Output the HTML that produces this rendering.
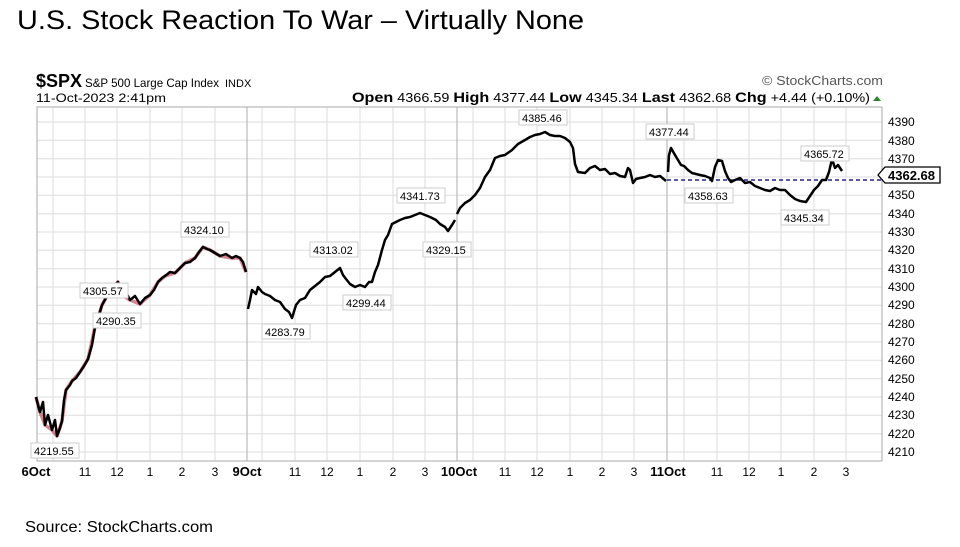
<!DOCTYPE html>
<html><head><meta charset="utf-8"><style>
body{margin:0;width:960px;height:542px;background:#fff;overflow:hidden;font-family:"Liberation Sans",Arial,sans-serif}
</style></head><body>
<svg width="960" height="542" xmlns="http://www.w3.org/2000/svg" font-family="Liberation Sans, Arial, sans-serif">
<text x="17" y="29" font-size="27" fill="#000" textLength="567" lengthAdjust="spacingAndGlyphs">U.S. Stock Reaction To War – Virtually None</text>
<text x="25" y="532" font-size="16" fill="#000" textLength="188" lengthAdjust="spacingAndGlyphs">Source: StockCharts.com</text>
<text x="36" y="87" font-size="18" font-weight="bold">$SPX</text>
<text x="85" y="87" font-size="12" textLength="134" lengthAdjust="spacingAndGlyphs">S&amp;P 500 Large Cap Index</text>
<text x="225" y="87" font-size="11">INDX</text>
<text x="36" y="102" font-size="12" textLength="130" lengthAdjust="spacingAndGlyphs">11-Oct-2023 2:41pm</text>
<text x="762" y="85" font-size="13" fill="#555" textLength="121" lengthAdjust="spacingAndGlyphs">© StockCharts.com</text>
<text x="352" y="102" font-size="12.5" textLength="518" lengthAdjust="spacingAndGlyphs"><tspan font-weight="bold" font-size="14">Open</tspan> 4366.59 <tspan font-weight="bold" font-size="14">High</tspan> 4377.44 <tspan font-weight="bold" font-size="14">Low</tspan> 4345.34 <tspan font-weight="bold" font-size="14">Last</tspan> 4362.68 <tspan font-weight="bold" font-size="14">Chg</tspan> +4.44 (+0.10%)</text>
<polygon points="873,101 881,101 877,96" fill="#2a8a2a"/>
<g stroke="#ddd" stroke-width="1">
<line x1="37" y1="122" x2="882" y2="122"/><line x1="37" y1="140.3" x2="882" y2="140.3"/><line x1="37" y1="158.7" x2="882" y2="158.7"/><line x1="37" y1="177" x2="882" y2="177"/><line x1="37" y1="195.3" x2="882" y2="195.3"/><line x1="37" y1="213.7" x2="882" y2="213.7"/><line x1="37" y1="232" x2="882" y2="232"/><line x1="37" y1="250.3" x2="882" y2="250.3"/><line x1="37" y1="268.7" x2="882" y2="268.7"/><line x1="37" y1="287" x2="882" y2="287"/><line x1="37" y1="305.3" x2="882" y2="305.3"/><line x1="37" y1="323.7" x2="882" y2="323.7"/><line x1="37" y1="342" x2="882" y2="342"/><line x1="37" y1="360.3" x2="882" y2="360.3"/><line x1="37" y1="378.7" x2="882" y2="378.7"/><line x1="37" y1="397" x2="882" y2="397"/><line x1="37" y1="415.3" x2="882" y2="415.3"/><line x1="37" y1="433.7" x2="882" y2="433.7"/><line x1="37" y1="452" x2="882" y2="452"/>
<line x1="53" y1="107" x2="53" y2="461"/><line x1="85" y1="107" x2="85" y2="461"/><line x1="117" y1="107" x2="117" y2="461"/><line x1="150" y1="107" x2="150" y2="461"/><line x1="182" y1="107" x2="182" y2="461"/><line x1="215" y1="107" x2="215" y2="461"/>
<line x1="262" y1="107" x2="262" y2="461"/><line x1="295" y1="107" x2="295" y2="461"/><line x1="327" y1="107" x2="327" y2="461"/><line x1="360" y1="107" x2="360" y2="461"/><line x1="393" y1="107" x2="393" y2="461"/><line x1="425" y1="107" x2="425" y2="461"/>
<line x1="473" y1="107" x2="473" y2="461"/><line x1="505" y1="107" x2="505" y2="461"/><line x1="537" y1="107" x2="537" y2="461"/><line x1="570" y1="107" x2="570" y2="461"/><line x1="602" y1="107" x2="602" y2="461"/><line x1="634" y1="107" x2="634" y2="461"/>
<line x1="684" y1="107" x2="684" y2="461"/><line x1="717" y1="107" x2="717" y2="461"/><line x1="749" y1="107" x2="749" y2="461"/><line x1="781" y1="107" x2="781" y2="461"/><line x1="814" y1="107" x2="814" y2="461"/><line x1="846" y1="107" x2="846" y2="461"/>
</g>
<g stroke="#bbb" stroke-width="1.2"><line x1="247" y1="107" x2="247" y2="461"/><line x1="457" y1="107" x2="457" y2="461"/><line x1="667" y1="107" x2="667" y2="461"/></g>
<rect x="37" y="107" width="845" height="354" fill="none" stroke="#aaa"/>
<line x1="667" y1="180" x2="882" y2="180" stroke="#22228a" stroke-width="1.5" stroke-dasharray="4,3"/>
<polyline fill="none" stroke="#c0304a" stroke-width="3.5" stroke-linejoin="round" opacity="0.6" points="36,397 40,412 45,425 52,430 57,436 62,421 66,390 72,381 80,372 88,359 95,327 102,305 110,290 118,282 122,295 130,300 140,304 150,295 158,282 165,276 175,273 185,263 195,258 203,247 210,250 220,256 232,258 240,258 246,272"/>
<polyline fill="none" stroke="#000" stroke-width="2.5" stroke-linejoin="round" points="36,397 38,405 40,412 43,402 45,425 48,415 52,430 55,420 57,436 60,428 62,421 64,400 66,390 70,385 72,381 76,378 80,372 84,366 88,359 92,345 95,327 99,315 102,305 106,298 110,290 114,285 118,282 122,295 126,292 130,300 135,296 140,304 145,298 150,295 154,290 158,282 162,278 165,276 170,272 175,273 180,268 185,263 190,262 195,258 199,252 203,247 207,249 210,250 215,253 220,256 226,254 232,258 236,256 240,258 243,262 246,272"/>
<polyline fill="none" stroke="#000" stroke-width="2.5" stroke-linejoin="round" points="248,309 250,300 252,290 256,294 258,287 262,292 265,294 270,296 275,300 280,302 285,309 289,312 292,318 296,305 300,300 305,298 310,290 315,286 320,282 325,277 330,276 335,272 340,268 343,275 346,279 350,284 355,287 360,285 365,287 369,282 372,282 375,272 378,265 382,250 385,240 388,235 392,224 396,222 400,220 405,218 410,217 415,215 420,213 425,215 430,217 436,220 440,224 445,227 448,231 452,225 455,220"/>
<polyline fill="none" stroke="#000" stroke-width="2.5" stroke-linejoin="round" points="457,214 460,208 465,203 470,200 475,195 480,188 485,177 490,170 495,158 500,156 505,155 512,150 518,144 525,140 530,137 535,135 540,134 545,132 550,135 555,136 560,136 565,138 570,142 573,148 575,164 578,172 585,173 590,168 595,166 600,170 605,169 610,174 615,173 620,176 625,177 628,168 630,170 633,183 636,179 640,178 645,177 650,175 655,177 660,176 666,181"/>
<polyline fill="none" stroke="#000" stroke-width="2.5" stroke-linejoin="round" points="668,172 669,155 671,148 675,155 678,160 681,165 684,166 688,170 692,173 696,174 700,175 705,176 710,178 712,181 715,167 718,160 722,161 725,171 728,178 731,182 735,180 740,178 745,183 750,182 755,186 760,188 765,190 770,191 775,188 780,190 785,190 790,195 795,199 800,201 806,202 810,196 814,190 818,186 822,180 826,180 829,172 832,159 835,168 838,165 842,171"/>
<g font-size="11" fill="#000">
<rect x="31" y="443" width="48" height="15" fill="#fff" stroke="#ccc"/><text x="34" y="455">4219.55</text>
<rect x="80" y="283" width="48" height="15" fill="#fff" stroke="#ccc"/><text x="83" y="295">4305.57</text>
<rect x="93" y="313" width="48" height="15" fill="#fff" stroke="#ccc"/><text x="96" y="325">4290.35</text>
<rect x="181" y="222" width="48" height="15" fill="#fff" stroke="#ccc"/><text x="184" y="234">4324.10</text>
<rect x="262" y="324" width="48" height="15" fill="#fff" stroke="#ccc"/><text x="265" y="336">4283.79</text>
<rect x="310" y="242" width="48" height="15" fill="#fff" stroke="#ccc"/><text x="313" y="254">4313.02</text>
<rect x="343" y="295" width="48" height="15" fill="#fff" stroke="#ccc"/><text x="346" y="307">4299.44</text>
<rect x="397" y="188" width="48" height="15" fill="#fff" stroke="#ccc"/><text x="400" y="200">4341.73</text>
<rect x="423" y="242" width="48" height="15" fill="#fff" stroke="#ccc"/><text x="426" y="254">4329.15</text>
<rect x="519" y="110" width="48" height="15" fill="#fff" stroke="#ccc"/><text x="522" y="122">4385.46</text>
<rect x="646" y="124" width="48" height="15" fill="#fff" stroke="#ccc"/><text x="649" y="136">4377.44</text>
<rect x="685" y="188" width="48" height="15" fill="#fff" stroke="#ccc"/><text x="688" y="200">4358.63</text>
<rect x="801" y="146" width="48" height="15" fill="#fff" stroke="#ccc"/><text x="804" y="158">4365.72</text>
<rect x="781" y="210" width="48" height="15" fill="#fff" stroke="#ccc"/><text x="784" y="222">4345.34</text>
</g>
<g font-size="12" fill="#000">
<text x="888" y="126">4390</text><text x="888" y="145">4380</text><text x="888" y="163">4370</text><text x="888" y="199">4350</text><text x="888" y="218">4340</text><text x="888" y="236">4330</text><text x="888" y="254">4320</text><text x="888" y="273">4310</text><text x="888" y="291">4300</text><text x="888" y="309">4290</text><text x="888" y="328">4280</text><text x="888" y="346">4270</text><text x="888" y="364">4260</text><text x="888" y="383">4250</text><text x="888" y="401">4240</text><text x="888" y="419">4230</text><text x="888" y="438">4220</text><text x="888" y="456">4210</text>
</g>
<polygon points="878,175 885,167 940,167 940,183 885,183" fill="#fff" stroke="#000" stroke-width="1.3"/>
<text x="888" y="180" font-size="13" font-weight="bold">4362.68</text>
<g font-size="12" text-anchor="middle">
<text x="36" y="476" font-weight="bold" font-size="13">6Oct</text><text x="85" y="476">11</text><text x="117" y="476">12</text><text x="150" y="476">1</text><text x="182" y="476">2</text><text x="215" y="476">3</text>
<text x="247" y="476" font-weight="bold" font-size="13">9Oct</text><text x="295" y="476">11</text><text x="327" y="476">12</text><text x="360" y="476">1</text><text x="393" y="476">2</text><text x="425" y="476">3</text>
<text x="459" y="476" font-weight="bold" font-size="13">10Oct</text><text x="505" y="476">11</text><text x="537" y="476">12</text><text x="570" y="476">1</text><text x="602" y="476">2</text><text x="634" y="476">3</text>
<text x="668" y="476" font-weight="bold" font-size="13">11Oct</text><text x="717" y="476">11</text><text x="749" y="476">12</text><text x="781" y="476">1</text><text x="814" y="476">2</text><text x="846" y="476">3</text>
</g>
</svg>
</body></html>
